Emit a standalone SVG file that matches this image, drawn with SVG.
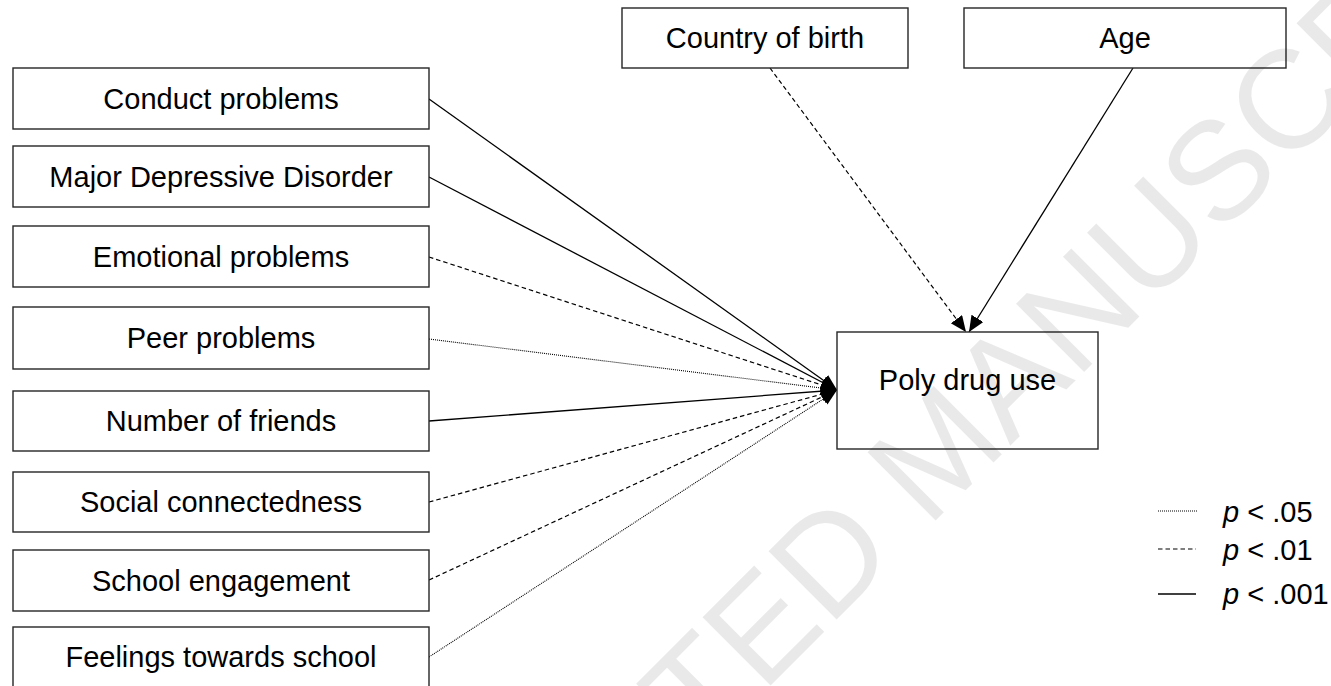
<svg xmlns="http://www.w3.org/2000/svg" width="1331" height="686" viewBox="0 0 1331 686">
  <style>
    .box { fill: #ffffff; stroke: #262626; stroke-width: 1.4; }
    .lbl { font-family: "Liberation Sans", Arial, sans-serif; font-size: 29px; fill: #000; text-anchor: middle; }
    .leg { font-family: "Liberation Sans", Arial, sans-serif; font-size: 29px; fill: #000; }
    .solid { stroke: #000; stroke-width: 1.3; fill: none; }
    .dash { stroke: #000; stroke-width: 1.2; fill: none; stroke-dasharray: 4.5 3; }
    .dot { stroke: #000; stroke-width: 1.1; fill: none; stroke-dasharray: 1 1; }
    .wm { font-family: "Liberation Sans", Arial, sans-serif; font-size: 140px; fill: #000; fill-opacity: 0.085; }
  </style>
  <defs>
    <marker id="arr" markerUnits="userSpaceOnUse" markerWidth="17" markerHeight="15" refX="16" refY="7" orient="auto">
      <path d="M0,0 L16,7 L0,14 Z" fill="#000"/>
    </marker>
  </defs>
  <rect width="1331" height="686" fill="#fff"/>

  <g id="connectors">
    <line class="solid" x1="429" y1="99" x2="837" y2="390" marker-end="url(#arr)"/>
    <line class="solid" x1="429" y1="177" x2="837" y2="390" marker-end="url(#arr)"/>
    <line class="dash" x1="429" y1="257" x2="837" y2="390" marker-end="url(#arr)"/>
    <line class="dot" x1="429" y1="339" x2="837" y2="390" marker-end="url(#arr)"/>
    <line class="solid" x1="429" y1="421" x2="837" y2="390" marker-end="url(#arr)"/>
    <line class="dash" x1="429" y1="502" x2="837" y2="390" marker-end="url(#arr)"/>
    <line class="dash" x1="429" y1="580" x2="837" y2="390" marker-end="url(#arr)"/>
    <line class="dot" x1="429" y1="657" x2="837" y2="390" marker-end="url(#arr)"/>
    <line class="dash" x1="770" y1="68" x2="966" y2="332" marker-end="url(#arr)"/>
    <line class="solid" x1="1133" y1="68" x2="969" y2="332" marker-end="url(#arr)"/>
  </g>

  <g id="n-conduct"><rect class="box" x="13" y="68" width="416" height="61"/><text class="lbl" x="221" y="108.5">Conduct problems</text></g>
  <g id="n-mdd"><rect class="box" x="13" y="146" width="416" height="61"/><text class="lbl" x="221" y="186.5">Major Depressive Disorder</text></g>
  <g id="n-emotional"><rect class="box" x="13" y="226" width="416" height="61"/><text class="lbl" x="221" y="266.5">Emotional problems</text></g>
  <g id="n-peer"><rect class="box" x="13" y="307" width="416" height="62"/><text class="lbl" x="221" y="348">Peer problems</text></g>
  <g id="n-friends"><rect class="box" x="13" y="391" width="416" height="60"/><text class="lbl" x="221" y="431">Number of friends</text></g>
  <g id="n-social"><rect class="box" x="13" y="472" width="416" height="60"/><text class="lbl" x="221" y="512">Social connectedness</text></g>
  <g id="n-school"><rect class="box" x="13" y="550" width="416" height="61"/><text class="lbl" x="221" y="590.5">School engagement</text></g>
  <g id="n-feelings"><rect class="box" x="13" y="627" width="416" height="62"/><text class="lbl" x="221" y="667">Feelings towards school</text></g>

  <g id="n-country"><rect class="box" x="622" y="8" width="286" height="60"/><text class="lbl" x="765" y="48">Country of birth</text></g>
  <g id="n-age"><rect class="box" x="964" y="8" width="322" height="60"/><text class="lbl" x="1125" y="48">Age</text></g>
  <g id="n-poly"><rect class="box" x="837" y="332" width="261" height="117"/><text class="lbl" x="967.5" y="390">Poly drug use</text></g>

  <g id="legend">
    <line class="dot" x1="1158" y1="511" x2="1198" y2="511"/>
    <line class="dash" x1="1158" y1="549" x2="1196" y2="549"/>
    <line class="solid" x1="1158" y1="594" x2="1196" y2="594"/>
    <text class="leg" x="1223" y="522"><tspan font-style="italic">p</tspan> &lt; .05</text>
    <text class="leg" x="1223" y="560"><tspan font-style="italic">p</tspan> &lt; .01</text>
    <text class="leg" x="1223" y="604"><tspan font-style="italic">p</tspan> &lt; .001</text>
  </g>

  <text class="wm" x="361" y="1095" transform="rotate(-45 361 1095)">ACCEPTED MANUSCRIPT</text>
</svg>
